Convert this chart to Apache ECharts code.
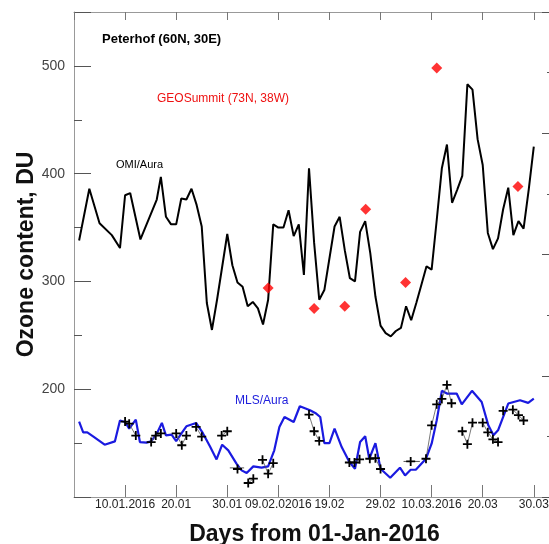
<!DOCTYPE html>
<html>
<head>
<meta charset="utf-8">
<script src="https://cdn.jsdelivr.net/npm/echarts@6/dist/echarts.min.js"></script>
<style>
  html, body { margin: 0; padding: 0; background: #fff; }
  #chart { width: 549px; height: 544px; }
</style>
</head>
<body>
<div id="chart"></div>
<script>
// day number counted from 01-Jan-2016 (1 = 01.01)
var tickDays = [10, 20, 30, 40, 50, 60, 70, 80, 90];
var tickLabels = ['10.01.2016', '20.01', '30.01', '09.02.02016', '19.02', '29.02', '10.03.2016', '20.03', '30.03'];

// OMI/Aura total ozone over Peterhof
var omiDays = [1, 3, 5, 7.4, 9, 10, 11, 13, 16.2, 17, 18, 19, 20, 21, 22, 23, 24, 25, 26, 27, 28, 30, 31, 32, 33, 34, 35, 36, 37, 38, 39, 40, 41, 42, 43, 44, 45, 46, 47, 48, 49, 51, 52, 53, 54, 55, 56, 57, 58, 59, 60, 61, 62, 63, 64, 65, 66, 67, 68, 69, 70, 71, 72, 73, 74, 75, 76, 77, 78, 79, 80, 81, 82, 83, 84, 85, 86, 87, 88, 89, 90];
var omiValues = [338, 386, 354, 343, 331, 380, 382, 339, 376, 397, 360, 353, 353, 377, 376, 386, 371, 351, 280, 255, 283, 344, 315, 299, 295, 277, 281, 275, 260, 283, 353, 350, 350, 366, 342, 353, 306, 405, 336, 283, 292, 351, 360, 329, 303, 300, 346, 356, 326, 286, 259, 252, 249, 254, 257, 277, 264, 280, 297, 314, 311, 357, 405, 427, 373, 385, 398, 483, 478, 432, 408, 345, 330, 340, 367, 387, 343, 356, 349, 385, 425];

// GEOSummit (73N, 38W)
var geoDays = [38, 47, 53, 57.1, 64.9, 71, 86.9];
var geoValues = [294, 275, 277, 367, 299, 498, 388];

// MLS/Aura
var mlsDays = [1, 1.8, 2.6, 3.8, 6, 8, 9, 10, 10.8, 12.1, 12.9, 14.2, 15.1, 16.2, 17.2, 18, 19.1, 20, 21.1, 22, 23.9, 25.2, 26.6, 27.9, 29, 30.2, 31.8, 32.8, 33.8, 35.1, 36.7, 38, 39.2, 40.2, 41.2, 43, 44.2, 46.2, 47.4, 48.2, 49, 50, 51, 52.4, 53.9, 55, 56, 57, 57.8, 59, 60, 61.9, 63.8, 64.8, 65.9, 66.9, 68.9, 70, 71, 72, 73, 74.9, 75.9, 77.9, 79.8, 81.1, 82.1, 83, 85, 87.3, 88.9, 90];
var mlsValues = [170, 160, 160, 156, 148.5, 151.6, 171, 169.6, 163.4, 171.8, 151, 150.4, 151.6, 158.8, 168.7, 157.2, 157.9, 151.9, 159.4, 165.6, 168.7, 159.4, 147, 134.9, 148.5, 143.3, 130.9, 124.7, 122.2, 128.4, 127.2, 128.4, 143.3, 164.9, 174.2, 169.6, 184.2, 180.5, 177.4, 174.2, 150, 150, 163.4, 146.3, 132.4, 126.2, 151, 156.3, 135.5, 150, 126.2, 117.9, 127.2, 120, 125.3, 125.3, 135.5, 149.5, 171.2, 198.5, 196, 196, 186, 198.5, 188.2, 166.5, 157.2, 161.9, 186.7, 189.8, 187.3, 191.3];

// ground based points (crosses), null = gap in the thin line
var crossDays = [10, 10.8, 12.1, null, 15.1, 16, 17, null, 20, 21.1, 22, null, 23.9, 25, null, 28.9, 30, null, 32, null, 34.1, 35.1, null, 36.9, 38, 39, null, 46, 47, 48, null, 53.9, 54.9, 55.9, null, 57.9, 59, 60, null, 65.9, null, 68.9, 70, 71, 72, 73, 73.9, null, 76, 77, 78, null, 80, 81, 82, 83, null, 84, null, 85.9, 87, 88];
var crossValues = [170, 168, 157, null, 151, 157, 159, null, 159, 148, 157, null, 165, 156, null, 157, 161, null, 126, null, 113, 117, null, 134.5, 121.6, 131.4, null, 176.5, 161, 152, null, 132, 132, 135, null, 135.5, 136, 126, null, 133, null, 135.5, 166.5, 186, 191, 204, 187, null, 161, 149, 169, null, 169, 160, 153.5, 151, null, 180, null, 181, 176, 171];

// horizontal spans of two averaged points
var spanStart = [30.5, 64.5];
var spanEnd = [33.3, 67.7];
var spanValues = [127, 133];

function pairs(xs, ys) {
    var out = [];
    for (var i = 0; i < xs.length; i++) {
        if (xs[i] === null) {
            out.push([xs[i - 1], '-']);
        } else {
            out.push([xs[i], ys[i]]);
        }
    }
    return out;
}

var spanData = [];
for (var i = 0; i < spanValues.length; i++) {
    spanData.push([spanStart[i], spanValues[i]], [spanEnd[i], spanValues[i]], [spanEnd[i], '-']);
}

var font = '"Liberation Sans", Arial, sans-serif';
var crossPath = 'path://M4,0h2v4h4v2h-4v4h-2v-4h-4v-2h4z';

var myChart = echarts.init(document.getElementById('chart'));
var option = {
    animation: false,
    grid: { left: 74, top: 12, right: -6, bottom: 47, outerBoundsMode: 'none', containLabel: false },
    xAxis: [{
        type: 'value',
        min: 0,
        max: 94.15,
        interval: 10,
        name: 'Days from 01-Jan-2016',
        nameLocation: 'middle',
        nameMoveOverlap: false,
        nameGap: 26,
        nameTextStyle: { fontFamily: font, fontSize: 23, fontWeight: 'bold', color: '#111' },
        axisLine: { onZero: false, lineStyle: { color: '#999', width: 1 } },
        axisTick: { inside: true, length: 12, lineStyle: { color: '#777' } },
        axisLabel: {
            margin: 2,
            fontFamily: font, fontSize: 12, color: '#222',
            showMinLabel: false, showMaxLabel: false,
            formatter: function (v) {
                var k = tickDays.indexOf(Math.round(v));
                return k >= 0 ? tickLabels[k] : '';
            }
        },
        splitLine: { show: false }
    }, {
        type: 'value',
        position: 'top',
        min: 0,
        max: 94.15,
        interval: 10,
        axisLine: { onZero: false, lineStyle: { color: '#999', width: 1 } },
        axisTick: { inside: true, length: 8, lineStyle: { color: '#777' } },
        axisLabel: { show: false },
        splitLine: { show: false }
    }],
    yAxis: [{
        type: 'value',
        min: 100,
        max: 550,
        interval: 100,
        name: 'Ozone content, DU',
        nameLocation: 'middle',
        nameMoveOverlap: false,
        nameGap: 36,
        nameTextStyle: { fontFamily: font, fontSize: 23, fontWeight: 'bold', color: '#111' },
        axisLine: { show: true, onZero: false, lineStyle: { color: '#999', width: 1 } },
        axisTick: { inside: true, length: 17, lineStyle: { color: '#555' } },
        minorTick: { show: true, splitNumber: 2, length: 8, lineStyle: { color: '#555' } },
        axisLabel: {
            margin: 9,
            fontFamily: font, fontSize: 14, color: '#444',
            formatter: function (v) { return (v >= 200 && v <= 500) ? String(v) : ''; }
        },
        splitLine: { show: false }
    }, {
        type: 'value',
        position: 'right',
        min: 0,
        max: 8,
        interval: 2,
        axisLine: { show: true, onZero: false, lineStyle: { color: '#999', width: 1 } },
        axisTick: { inside: true, length: 13, lineStyle: { color: '#555' } },
        minorTick: { show: true, splitNumber: 2, length: 8, lineStyle: { color: '#555' } },
        axisLabel: { show: false },
        splitLine: { show: false }
    }],
    graphic: [
        { type: 'text', left: 102, top: 33, style: { text: 'Peterhof (60N, 30E)', font: 'bold 13px ' + font, fill: '#000' } },
        { type: 'text', left: 157, top: 93, style: { text: 'GEOSummit (73N, 38W)', font: '12px ' + font, fill: '#ee1111' } },
        { type: 'text', left: 116, top: 159, style: { text: 'OMI/Aura', font: '11px ' + font, fill: '#000' } },
        { type: 'text', left: 235, top: 395, style: { text: 'MLS/Aura', font: '12px ' + font, fill: '#2020dd' } }
    ],
    series: [{
        name: 'OMI/Aura',
        type: 'line',
        data: pairs(omiDays, omiValues),
        showSymbol: false,
        lineStyle: { color: '#000', width: 2 },
        z: 3
    }, {
        name: 'MLS/Aura',
        type: 'line',
        data: pairs(mlsDays, mlsValues),
        showSymbol: false,
        lineStyle: { color: '#1a1ae0', width: 2.2 },
        z: 3
    }, {
        name: 'ground',
        type: 'line',
        data: pairs(crossDays, crossValues),
        symbol: crossPath,
        symbolSize: 9,
        itemStyle: { color: '#000' },
        lineStyle: { color: '#555', width: 0.8 },
        z: 4
    }, {
        name: 'spans',
        type: 'line',
        data: spanData,
        showSymbol: false,
        lineStyle: { color: '#555', width: 1 },
        z: 4
    }, {
        name: 'GEOSummit',
        type: 'scatter',
        data: pairs(geoDays, geoValues),
        symbol: 'diamond',
        symbolSize: [11, 11],
        itemStyle: { color: '#ff0000' },
        z: 5
    }]
};
myChart.setOption(option);
</script>
</body>
</html>
